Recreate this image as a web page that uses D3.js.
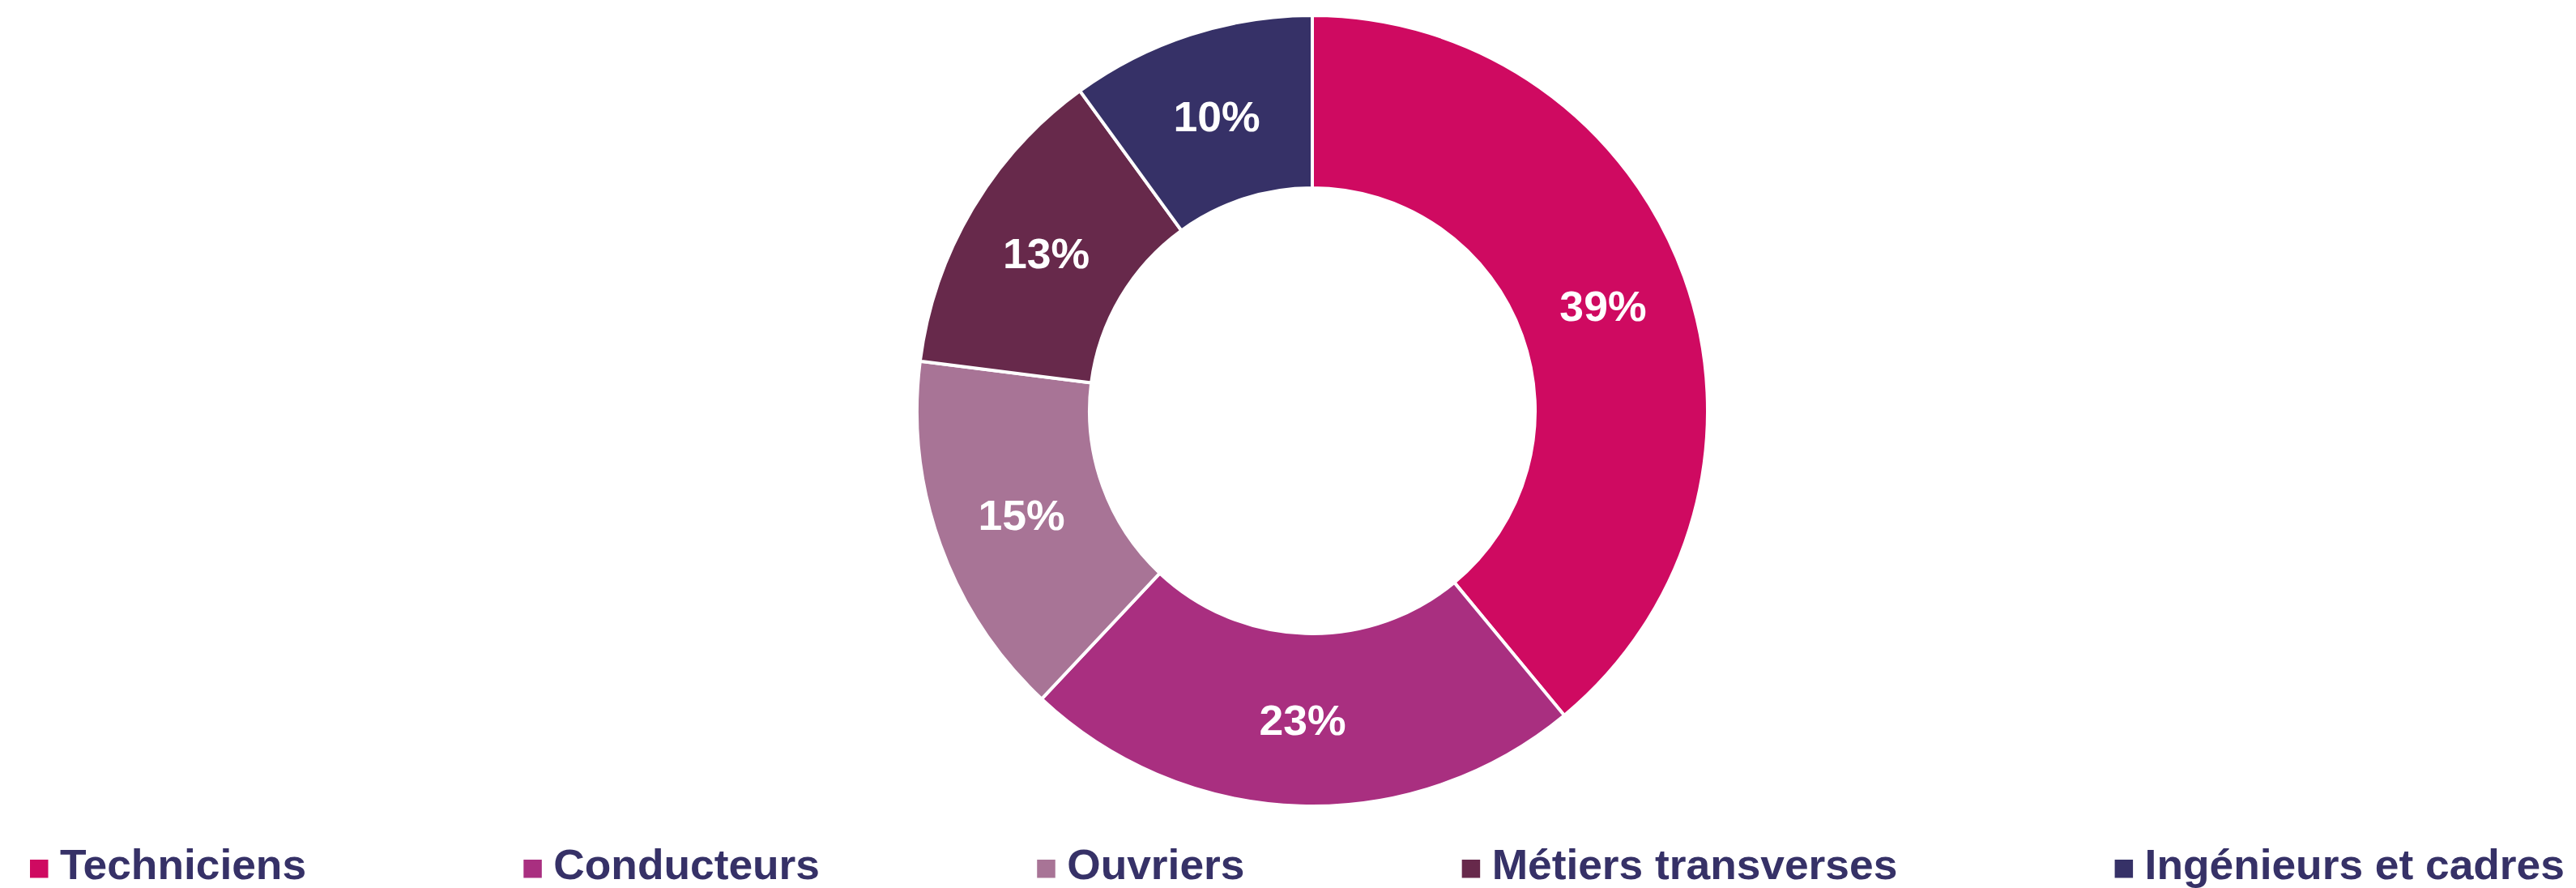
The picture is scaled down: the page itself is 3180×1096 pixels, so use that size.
<!DOCTYPE html>
<html>
<head>
<meta charset="utf-8">
<script src="https://cdn.jsdelivr.net/npm/d3@7"></script>
<style>
  html, body { margin: 0; padding: 0; background: #ffffff; overflow: hidden; }
  svg { display: block; }
</style>
</head>
<body>
<svg id="chart" width="3180" height="1096"></svg>
<script>
const categories = ["Techniciens", "Conducteurs", "Ouvriers", "Métiers transverses", "Ingénieurs et cadres"];
const values = [39, 23, 15, 13, 10];
const labels = ["39%", "23%", "15%", "13%", "10%"];
const colors = ["#CF0A61", "#A92F80", "#A87496", "#67294B", "#363167"];

const svg = d3.select("#chart");
const cx = 1620, cy = 507;
const outerR = 488, innerR = 275;

const data = categories.map((c, i) => ({ cat: c, value: values[i], label: labels[i], color: colors[i] }));

const pie = d3.pie().sort(null).value(d => d.value);
const arc = d3.arc().innerRadius(innerR).outerRadius(outerR);
const arcs = pie(data);

const g = svg.append("g").attr("transform", `translate(${cx},${cy})`);

g.selectAll("path.slice")
  .data(arcs)
  .enter().append("path")
  .attr("class", "slice")
  .attr("d", arc)
  .attr("fill", d => d.data.color)
  .attr("stroke", "#ffffff")
  .attr("stroke-width", 4)
  .attr("stroke-linejoin", "miter");

g.selectAll("text.lbl")
  .data(arcs)
  .enter().append("text")
  .attr("class", "lbl")
  .attr("transform", d => `translate(${arc.centroid(d)[0]},${arc.centroid(d)[1]}) scale(1.03,1)`)
  .attr("text-anchor", "middle")
  .attr("dominant-baseline", "central")
  .attr("font-family", "'Liberation Sans', Arial, sans-serif")
  .attr("font-weight", "bold")
  .attr("font-size", 52)
  .attr("fill", "#363167" === "" ? "" : "#ffffff")
  .text(d => d.data.label);

// Legend (flow layout fitted between left and right edges)
const legend = svg.append("g").attr("class", "legend");
const markerSize = 22.5;
const textOffset = 37;
const stretch = 1.025;
const baseline = 1085;
const startX = 37, endX = 3166;

const items = data.map((d) => {
  const item = legend.append("g");
  const rect = item.append("rect")
    .attr("y", 1061)
    .attr("width", markerSize)
    .attr("height", markerSize)
    .attr("fill", d.color);
  const t = item.append("text")
    .attr("font-family", "'Liberation Sans', Arial, sans-serif")
    .attr("font-weight", "bold")
    .attr("font-size", 52)
    .attr("fill", "#363167")
    .text(d.cat);
  const w = t.node().getComputedTextLength() * stretch;
  return { rect, t, w };
});
const totalItems = d3.sum(items, it => textOffset + it.w);
const itemGap = (endX - startX - totalItems) / (items.length - 1);
let x = startX;
items.forEach(it => {
  it.rect.attr("x", x);
  it.t.attr("transform", `translate(${x + textOffset},${baseline}) scale(${stretch},1)`);
  x = x + textOffset + it.w + itemGap;
});
</script>
</body>
</html>
